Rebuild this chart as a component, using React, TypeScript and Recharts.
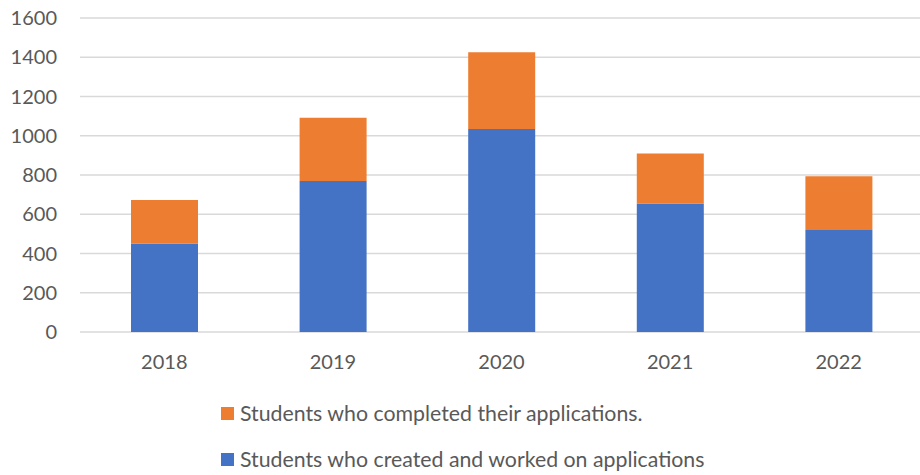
import React from 'react';
import { BarChart, Bar, XAxis, YAxis, CartesianGrid, Legend } from 'recharts';

const years = ['2018', '2019', '2020', '2021', '2022'];
const createdWorked = [450, 770, 1035, 655, 520];
const completed = [222, 322, 390, 255, 273];
const yTicks = [0, 200, 400, 600, 800, 1000, 1200, 1400, 1600];

const BLUE = '#4472C4';
const ORANGE = '#ED7D31';
const TEXT = '#595959';
const FONT = 'Lato, "Open Sans", sans-serif';

const data = years.map((y, i) => ({
  year: y,
  created: createdWorked[i],
  completed: completed[i],
}));

const legendItems = [
  { label: 'Students who completed their applications.', color: ORANGE },
  { label: 'Students who created and worked on applications', color: BLUE },
];

const LegendContent = () => (
  <div style={{ position: 'absolute', left: 221, top: 29, fontFamily: FONT, fontSize: 21.3, color: TEXT }}>
    {legendItems.map((it, i) => (
      <div key={i} style={{ display: 'flex', alignItems: 'center', height: 24, marginBottom: i === 0 ? 22 : 0, whiteSpace: 'nowrap' }}>
        <span style={{ display: 'inline-block', width: 13, height: 13, background: it.color, marginRight: 6 }} />
        <span>{it.label}</span>
      </div>
    ))}
  </div>
);

export default function App() {
  return (
    <div style={{ position: 'absolute', left: 0, top: 0, width: 920, height: 475, overflow: 'hidden', background: '#fff' }}>
      <BarChart width={923} height={475} data={data} margin={{ top: 18, right: 0, left: 0, bottom: 0 }}>
        <CartesianGrid horizontal vertical={false} stroke="#d9d9d9" strokeWidth={1.5} />
        <XAxis
          dataKey="year"
          axisLine={false}
          tickLine={false}
          height={40}
          tickSize={6}
          tickMargin={17}
          tick={{ fill: TEXT, fontSize: 20, fontFamily: FONT }}
        />
        <YAxis
          width={80}
          domain={[0, 1600]}
          ticks={yTicks}
          axisLine={false}
          tickLine={false}
          tickSize={6}
          tickMargin={17}
          tick={{ fill: TEXT, fontSize: 20, fontFamily: FONT }}
        />
        <Legend verticalAlign="bottom" height={103} content={LegendContent} wrapperStyle={{ left: 0, width: 920, height: 103 }} />
        <Bar dataKey="created" stackId="a" fill={BLUE} barSize={67} isAnimationActive={false} />
        <Bar dataKey="completed" stackId="a" fill={ORANGE} barSize={67} isAnimationActive={false} />
      </BarChart>
    </div>
  );
}
